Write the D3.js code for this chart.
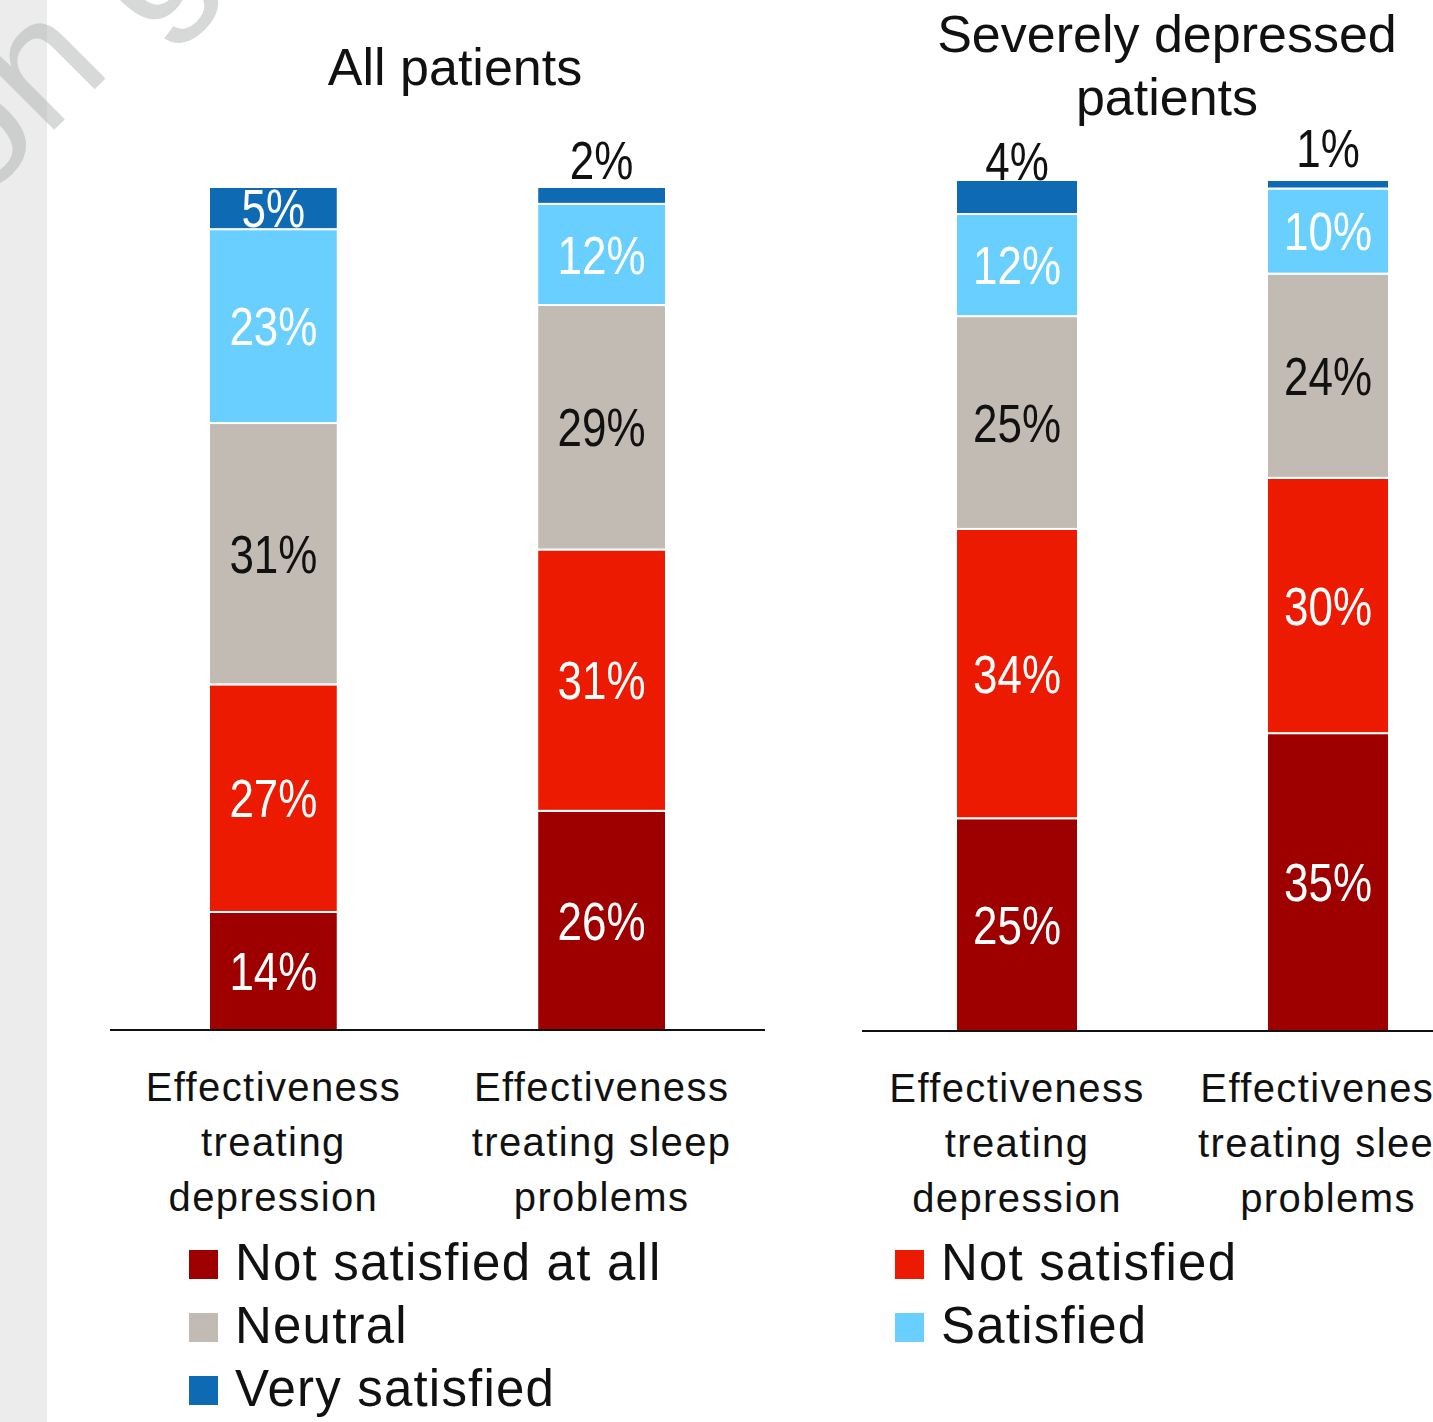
<!DOCTYPE html>
<html>
<head>
<meta charset="utf-8">
<script src="https://cdn.jsdelivr.net/npm/d3@7"></script>
<style>
  body { margin: 0; background: #fff; }
  svg { display: block; }
</style>
</head>
<body>
<svg></svg>
<script>
// data
let categories = ["Effectiveness treating depression", "Effectiveness treating sleep problems"];
let categoryLines = [["Effectiveness", "treating", "depression"], ["Effectiveness", "treating sleep", "problems"]];
let seriesNames = ["Not satisfied at all", "Not satisfied", "Neutral", "Satisfied", "Very satisfied"];
let allPatients = [[14, 27, 31, 23, 5], [26, 31, 29, 12, 2]];
let severePatients = [[25, 34, 25, 12, 4], [35, 30, 24, 10, 1]];
let panelTitles = [["All patients"], ["Severely depressed", "patients"]];
let colors = ["#9e0000", "#ec1a00", "#c2bbb4", "#69cfff", "#0f6ab4"];

let width = 1433;
let height = 1422;

let svg = d3.select("svg").attr("width", width).attr("height", height);

// left band + faint watermark
svg.append("rect").attr("x", 0).attr("y", 0).attr("width", 47).attr("height", height).attr("fill", "#ececec");
svg.append("text")
  .attr("transform", "translate(-22,206) rotate(-45)")
  .attr("font-family", "Liberation Sans, Arial, sans-serif")
  .attr("font-size", 172)
  .attr("fill", "#b0b4b4")
  .attr("opacity", 0.5)
  .text("on g");

let textFont = "'Liberation Sans', Arial, sans-serif";

let panels = [
  { data: allPatients, range: [209, 666], base: 1030, top: 187, axis: [110, 765], title: panelTitles[0], titleX: 455, titleY: 85 },
  { data: severePatients, range: [956, 1389], base: 1031, top: 180, axis: [862, 1433], title: panelTitles[1], titleX: 1167, titleY: 52 }
];

let drawPanel = (p) => {
  let g = svg.append("g");
  let xScale = d3.scaleBand().domain(categories).range(p.range).paddingInner(0.6077).paddingOuter(0);
  let yScale = d3.scaleLinear().domain([0, 100]).range([p.base, p.top]);

  let rows = p.data.map((vals, i) => {
    let r = { cat: categories[i] };
    seriesNames.forEach((s, j) => { r[s] = vals[j]; });
    return r;
  });
  let stacked = d3.stack().keys(seriesNames)(rows);

  stacked.forEach((layer, j) => {
    g.selectAll(null)
      .data(layer)
      .enter()
      .append("rect")
      .attr("x", (d) => xScale(d.data.cat))
      .attr("width", xScale.bandwidth())
      .attr("y", (d) => yScale(d[1]))
      .attr("height", (d) => yScale(d[0]) - yScale(d[1]))
      .attr("fill", colors[j])
      .attr("stroke", "#fff")
      .attr("stroke-width", 2);

    // value labels, squeezed horizontally to match the narrow digits
    g.selectAll(null)
      .data(layer)
      .enter()
      .append("text")
      .attr("transform", (d) => {
        let cx = xScale(d.data.cat) + xScale.bandwidth() / 2;
        let c = (yScale(d[0]) + yScale(d[1])) / 2;
        let cy = d[1] - d[0] < 5 ? c - 36 : c;
        return "translate(" + cx + "," + cy + ") scale(0.83,1)";
      })
      .attr("dy", "0.36em")
      .attr("text-anchor", "middle")
      .attr("font-family", textFont)
      .attr("font-size", 53)
      .attr("fill", (d) => (d[1] - d[0] < 5 || j === 2 ? "#111" : "#fff"))
      .text((d) => d[1] - d[0] + "%");
  });

  // baseline
  g.append("line")
    .attr("x1", p.axis[0]).attr("x2", p.axis[1])
    .attr("y1", p.base).attr("y2", p.base)
    .attr("stroke", "#111").attr("stroke-width", 2);

  // category labels
  categories.forEach((c, i) => {
    let t = g.append("text")
      .attr("text-anchor", "middle")
      .attr("font-family", textFont)
      .attr("font-size", 40)
      .attr("letter-spacing", 1.4)
      .attr("fill", "#111");
    categoryLines[i].forEach((line, k) => {
      t.append("tspan")
        .attr("x", xScale(c) + xScale.bandwidth() / 2)
        .attr("y", p.base + 71 + k * 55)
        .text(line);
    });
  });

  // title
  let tt = g.append("text")
    .attr("text-anchor", "middle")
    .attr("font-family", textFont)
    .attr("font-size", 52)
    .attr("fill", "#111");
  p.title.forEach((line, k) => {
    tt.append("tspan").attr("x", p.titleX).attr("y", p.titleY + k * 63).text(line);
  });
};

panels.forEach(drawPanel);

// legend
let legendItems = [[0, 189, 0], [2, 189, 1], [4, 189, 2], [1, 895, 0], [3, 895, 1]];
let legend = svg.append("g");
legendItems.forEach(([s, x, row]) => {
  let y = 1262 + row * 63;
  legend.append("rect")
    .attr("x", x).attr("y", y - 12)
    .attr("width", 29).attr("height", 29)
    .attr("fill", colors[s]);
  legend.append("text")
    .attr("x", x + 46).attr("y", y)
    .attr("dy", "0.36em")
    .attr("font-family", textFont)
    .attr("font-size", 51)
    .attr("letter-spacing", 1.2)
    .attr("fill", "#111")
    .text(seriesNames[s]);
});
</script>
</body>
</html>
